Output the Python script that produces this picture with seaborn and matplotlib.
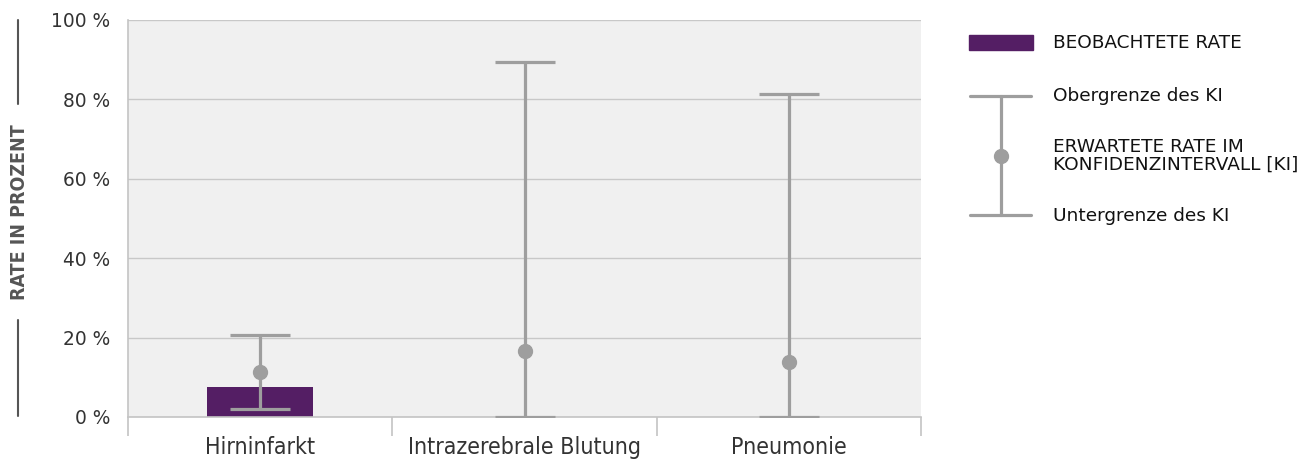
import matplotlib
matplotlib.use("Agg")
import matplotlib.pyplot as plt
import pandas as pd
import seaborn as sns
from matplotlib.lines import Line2D
from matplotlib.patches import Rectangle

categories = ["Hirninfarkt", "Intrazerebrale Blutung", "Pneumonie"]
observed = [7.6, 0.0, 0.0]
expected = [11.3, 16.6, 13.9]
ci_lower = [2.0, 0.0, 0.0]
ci_upper = [20.7, 89.4, 81.4]
y_ticks = [0, 20, 40, 60, 80, 100]

PURPLE = "#541e64"
GREY = "#9e9e9e"

sns.set_theme(style="white")
plt.rcParams["font.family"] = ["DejaVu Sans"]

W, H = 1311, 463
fig = plt.figure(figsize=(W / 100, H / 100), dpi=100)
ax = fig.add_axes([128 / W, 1 - 417 / H, (921 - 128) / W, (417 - 20) / H])
ax.set_facecolor("#f0f0f0")

df = pd.DataFrame({"Kategorie": categories, "Rate": observed})
sns.barplot(data=df, x="Kategorie", y="Rate", color=PURPLE, width=0.4,
            saturation=1, linewidth=0, ax=ax, zorder=2)

pos = list(range(len(categories)))
err_lo = [e - l for e, l in zip(expected, ci_lower)]
err_hi = [u - e for e, u in zip(expected, ci_upper)]
ax.errorbar(pos, expected, yerr=[err_lo, err_hi], fmt="o", color=GREY,
            ecolor=GREY, elinewidth=2.3, capsize=21.6, capthick=2.3,
            markersize=10, zorder=3)

ax.set_ylim(0, 100)
ax.set_xlim(-0.5, 2.5)
ax.set_yticks(y_ticks)
ax.set_yticklabels([f"{t} %" for t in y_ticks], fontsize=13.4, color="#333333")
ax.yaxis.grid(True, color="#c8c8c8", linewidth=1.0)
ax.set_axisbelow(True)
ax.tick_params(axis="y", length=0, pad=13)
ax.set_xlabel("")
ax.set_ylabel("")

# category boundary ticks below the axis
ax.set_xticks([-0.5, 0.5, 1.5, 2.5], minor=True)
ax.tick_params(axis="x", which="minor", length=14, width=1.2, color="#c4c4c4",
               bottom=True)
ax.tick_params(axis="x", which="major", length=0, pad=14)
for lbl in ax.get_xticklabels():
    lbl.set_fontsize(16.6)
    lbl.set_fontstretch("condensed")
    lbl.set_color("#333333")

for side in ["top", "right"]:
    ax.spines[side].set_visible(False)
for side in ["left", "bottom"]:
    ax.spines[side].set_color("#c4c4c4")
    ax.spines[side].set_linewidth(1.2)

# y axis title with lines
fig.text(20 / W, 1 - 212 / H, "RATE IN PROZENT", rotation=90, ha="center",
         va="center", fontsize=14, color="#555555", fontweight="bold",
         fontstretch="condensed")
fig.add_artist(Line2D([18 / W, 18 / W], [1 - 20 / H, 1 - 104 / H],
                      color="#555555", linewidth=1.5))
fig.add_artist(Line2D([18 / W, 18 / W], [1 - 320 / H, 1 - 416 / H],
                      color="#555555", linewidth=1.5))


# legend
def fx(x):
    return x / W


def fy(y):
    return 1 - y / H


fig.add_artist(Rectangle((fx(969), fy(50)), fx(1033) - fx(969), fy(35) - fy(50),
                         color=PURPLE, transform=fig.transFigure))
fig.add_artist(Line2D([fx(1001), fx(1001)], [fy(96), fy(215)], color=GREY,
                      linewidth=2.3))
fig.add_artist(Line2D([fx(970), fx(1031)], [fy(96), fy(96)], color=GREY,
                      linewidth=2.3))
fig.add_artist(Line2D([fx(970), fx(1031)], [fy(215), fy(215)], color=GREY,
                      linewidth=2.3))
fig.add_artist(Line2D([fx(1001)], [fy(156)], color=GREY, marker="o",
                      markersize=10, linestyle="none"))

legend_texts = [
    (43, "BEOBACHTETE RATE"),
    (96, "Obergrenze des KI"),
    (156, "ERWARTETE RATE IM\nKONFIDENZINTERVALL [KI]"),
    (216, "Untergrenze des KI"),
]
for y, t in legend_texts:
    fig.text(fx(1053), fy(y), t, ha="left", va="center", fontsize=13.3,
             color="#111111", linespacing=1.0)

fig.savefig("out.png", dpi=100)
